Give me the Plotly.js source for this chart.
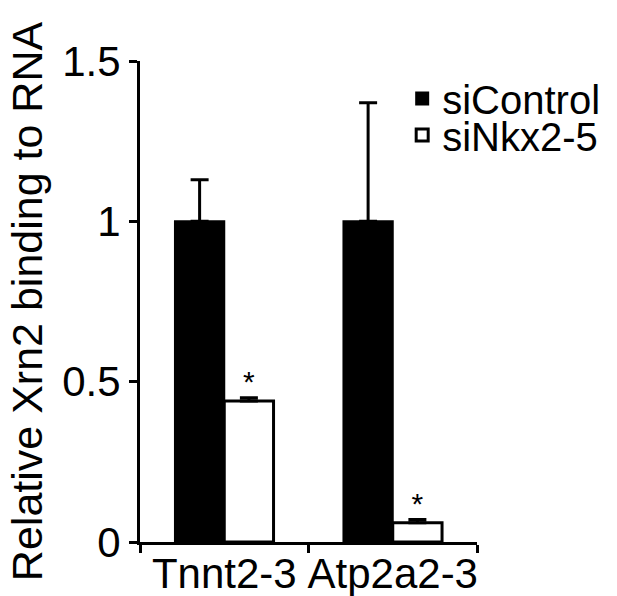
<!DOCTYPE html>
<html>
<head>
<meta charset="utf-8">
<script src="https://cdn.plot.ly/plotly-3.0.1.min.js"></script>
<style>
  html, body { margin: 0; padding: 0; background: #fff; }
  #chart { width: 617px; height: 596px; }
</style>
</head>
<body>
<div id="chart"></div>
<script>
var genes = ['Tnnt2-3', 'Atp2a2-3'];
var controlValues = [1.0, 1.0];
var controlErrors = [0.13, 0.37];
var knockdownValues = [0.44, 0.06];
var knockdownErrors = [0.01, 0.01];
var knockdownMarks = ['*', '*'];

var fontFam = '"Liberation Sans", Arial, sans-serif';

var data = [
  {
    type: 'bar',
    name: 'siControl',
    x: genes,
    y: controlValues,
    marker: { color: '#000', line: { color: '#000', width: 2 } },
    error_y: {
      type: 'data', array: controlErrors, symmetric: false, arrayminus: [0, 0],
      color: '#000', thickness: 3, width: 9
    },
    legend: 'legend'
  },
  {
    type: 'bar',
    name: 'siNkx2-5',
    x: genes,
    y: knockdownValues,
    text: knockdownMarks,
    textposition: 'outside',
    textfont: { size: 30, color: '#000', family: fontFam },
    cliponaxis: false,
    marker: { color: '#fff', line: { color: '#000', width: 3 } },
    error_y: {
      type: 'data', array: knockdownErrors, symmetric: false, arrayminus: [0, 0],
      color: '#000', thickness: 3, width: 9
    },
    legend: 'legend2'
  }
];

var legendStyle = {
  xanchor: 'left', yanchor: 'middle',
  bgcolor: 'rgba(0,0,0,0)',
  font: { size: 40, color: '#000', family: fontFam },
  itemwidth: 30
};

var layout = {
  width: 617,
  height: 596,
  margin: { l: 140, r: 135, t: 61, b: 54 },
  paper_bgcolor: '#fff',
  plot_bgcolor: '#fff',
  font: { family: fontFam, color: '#000', size: 42 },
  barmode: 'group',
  bargap: 0.415,
  bargroupgap: 0,
  showlegend: true,
  legend: Object.assign({}, legendStyle, { x: 0.778, y: 0.922 }),
  legend2: Object.assign({}, legendStyle, { x: 0.778, y: 0.846 }),
  xaxis: {
    type: 'category',
    range: [-0.5, 1.5],
    showline: true, linecolor: '#000', linewidth: 3,
    ticks: 'outside', tickson: 'boundaries', ticklen: 8, tickwidth: 3, tickcolor: '#000',
    showgrid: false, zeroline: false, tickangle: 0, ticklabelstandoff: -7,
    tickfont: { size: 42, color: '#000', family: fontFam }
  },
  yaxis: {
    range: [0, 1.5],
    tickvals: [0, 0.5, 1, 1.5],
    ticktext: ['0', '0.5', '1', '1.5'],
    showline: true, linecolor: '#000', linewidth: 3,
    ticks: 'outside', ticklen: 8, tickwidth: 3, tickcolor: '#000',
    showgrid: false, zeroline: false,
    tickfont: { size: 42, color: '#000', family: fontFam },
    title: { text: 'Relative Xrn2 binding to RNA', font: { size: 43, color: '#000', family: fontFam } }
  }
};

Plotly.newPlot('chart', data, layout, { displayModeBar: false, staticPlot: true });
</script>
</body>
</html>
